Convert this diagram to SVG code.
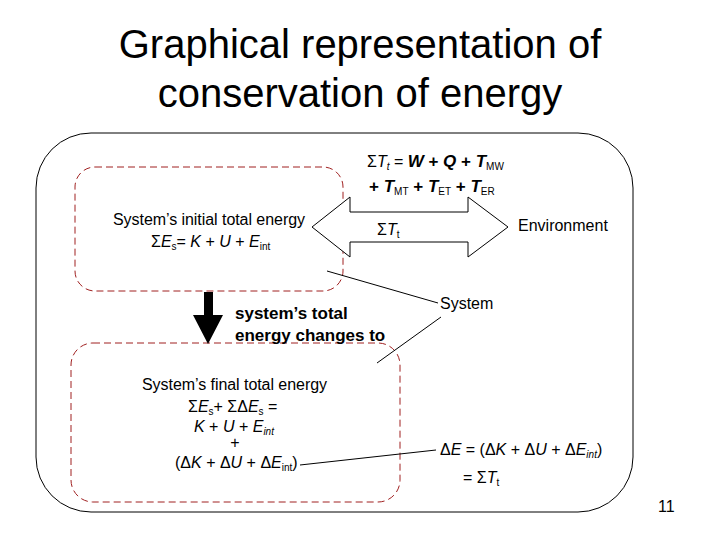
<svg xmlns="http://www.w3.org/2000/svg" width="720" height="540" viewBox="0 0 720 540">
<style>
text{font-family:"Liberation Sans",Arial,sans-serif;fill:#000}
.t{font-size:40px}
.s{font-size:16px}
.b{font-size:17px;font-weight:bold}
.dash{fill:none;stroke:#a02020;stroke-width:1;stroke-dasharray:7,4}
.ln{fill:none;stroke:#000;stroke-width:1}
</style>
<rect width="720" height="540" fill="#fff"/>
<text class="t" x="360" y="58" text-anchor="middle">Graphical representation of</text>
<text class="t" x="360" y="107" text-anchor="middle">conservation of energy</text>
<g id="environment">
<rect x="36" y="133" width="597" height="379" rx="55" class="ln"/>
<text class="s" x="518" y="231">Environment</text>
</g>
<g id="initial">
<rect x="75" y="167" width="268" height="124" rx="20" class="dash"/>
<text class="s" x="209" y="225" text-anchor="middle" textLength="192">System’s initial total energy</text>
<text class="s" x="151" y="247">Σ<tspan font-style="italic">E</tspan><tspan font-size="10" dy="3">s</tspan><tspan dy="-3">= </tspan><tspan font-style="italic">K</tspan> + <tspan font-style="italic">U</tspan> + <tspan font-style="italic">E</tspan><tspan font-size="10" dy="3">int</tspan></text>
</g>
<g id="final">
<rect x="71" y="343" width="329" height="159" rx="22" class="dash"/>
<text class="s" x="142" y="390" textLength="185">System’s final total energy</text>
<text class="s" x="188" y="412">Σ<tspan font-style="italic">E</tspan><tspan font-size="10" dy="3">s</tspan><tspan dy="-3">+ ΣΔ</tspan><tspan font-style="italic">E</tspan><tspan font-size="10" dy="3">s</tspan><tspan dy="-3"> =</tspan></text>
<text class="s" x="194" y="432"><tspan font-style="italic">K</tspan> + <tspan font-style="italic">U</tspan> + <tspan font-style="italic">E</tspan><tspan font-size="10" dy="3" font-style="italic">int</tspan></text>
<text class="s" x="235" y="448" text-anchor="middle">+</text>
<text class="s" x="175" y="468">(Δ<tspan font-style="italic">K</tspan> + Δ<tspan font-style="italic">U</tspan> + Δ<tspan font-style="italic">E</tspan><tspan font-size="10" dy="3">int</tspan><tspan dy="-3">)</tspan></text>
</g>
<g id="connectors">
<polygon points="312,227 350,197 350,212 468,212 468,197 508,227 468,257 468,242 350,242 350,257" fill="#fff" stroke="#000" stroke-width="1"/>
<polygon points="204,292 213,292 213,315 223,315 208,344 193,315 204,315" fill="#000"/>
<line x1="327" y1="271" x2="438" y2="303" class="ln"/>
<line x1="441" y1="317" x2="377" y2="363" class="ln"/>
<line x1="300" y1="465" x2="436" y2="450" class="ln"/>
</g>
<g id="labels">
<text class="s" x="367" y="167">Σ<tspan font-style="italic">T</tspan><tspan font-size="10" dy="3" font-style="italic">t</tspan><tspan dy="-3"> = </tspan><tspan class="b" font-style="italic">W</tspan><tspan class="b"> + </tspan><tspan class="b" font-style="italic">Q</tspan><tspan class="b"> + </tspan><tspan class="b" font-style="italic">T</tspan><tspan font-size="10" dy="3">MW</tspan></text>
<text class="b" x="369" y="192">+ <tspan font-style="italic">T</tspan><tspan font-size="10" font-weight="normal" dy="3">MT</tspan><tspan dy="-3"> + </tspan><tspan font-style="italic">T</tspan><tspan font-size="10" font-weight="normal" dy="3">ET</tspan><tspan dy="-3"> + </tspan><tspan font-style="italic">T</tspan><tspan font-size="10" font-weight="normal" dy="3">ER</tspan></text>
<text class="s" x="377" y="235">Σ<tspan font-style="italic">T</tspan><tspan font-size="10" dy="3">t</tspan></text>
<text class="s" x="440" y="309">System</text>
<text class="b" x="235" y="319">system’s total</text>
<text class="b" x="235" y="341">energy changes to</text>
<text class="s" x="440" y="455">Δ<tspan font-style="italic">E</tspan> = (Δ<tspan font-style="italic">K</tspan> + Δ<tspan font-style="italic">U</tspan> + Δ<tspan font-style="italic">E</tspan><tspan font-size="10" dy="3" font-style="italic">int</tspan><tspan dy="-3">)</tspan></text>
<text class="s" x="463" y="483">= Σ<tspan font-style="italic">T</tspan><tspan font-size="10" dy="3">t</tspan></text>
<text class="s" x="658" y="512">11</text>
</g>
</svg>
